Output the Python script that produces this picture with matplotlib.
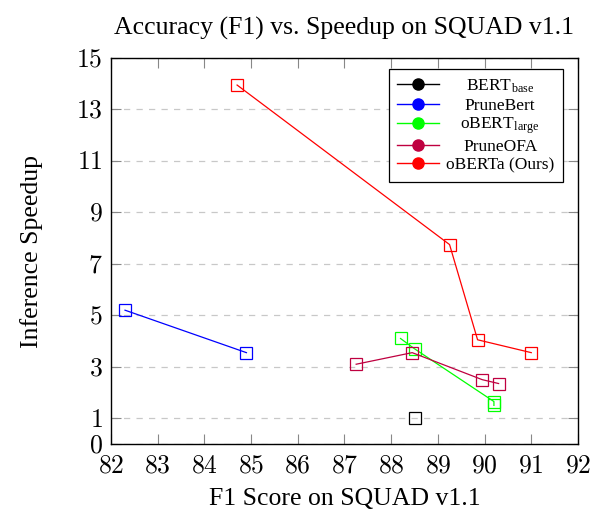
import numpy as np
import matplotlib.pyplot as plt
from matplotlib.lines import Line2D
from matplotlib.transforms import Affine2D

plt.rcParams['font.family'] = 'Liberation Serif'
plt.rcParams['mathtext.fontset'] = 'cm'

# data
bert_f1 = [88.5]
bert_speed = [1.0]
prunebert_f1 = [82.3, 84.9]
prunebert_speed = [5.2, 3.55]
obert_f1 = [88.2, 88.5, 90.2, 90.2]
obert_speed = [4.1, 3.7, 1.65, 1.5]
pruneofa_f1 = [87.25, 88.45, 89.95, 90.3]
pruneofa_speed = [3.1, 3.55, 2.5, 2.35]
oberta_f1 = [84.7, 89.25, 89.85, 91.0]
oberta_speed = [13.95, 7.75, 4.05, 3.55]

series = [
    (bert_f1, bert_speed, 'black', r'BERT$_{\mathregular{base}}$'),
    (prunebert_f1, prunebert_speed, 'blue', 'PruneBert'),
    (obert_f1, obert_speed, '#00ff00', r'oBERT$_{\mathregular{large}}$'),
    (pruneofa_f1, pruneofa_speed, '#bf0040', 'PruneOFA'),
    (oberta_f1, oberta_speed, 'red', 'oBERTa (Ours)'),
]

xticks = list(range(82, 93))
yticks = [0, 1, 3, 5, 7, 9, 11, 13, 15]

fig = plt.figure(figsize=(6.02, 5.13), dpi=100)
ax = fig.add_axes([0.1844, 0.1345, 0.7757, 0.7524])

for x, y, c, lab in series:
    ax.plot(x, y, color=c, lw=0.9, marker='s', ms=8.5, mfc='none', mec=c, mew=0.9)

# legend handles: line + filled circle
handles = [Line2D([0], [0], color=c, lw=1, marker='o', ms=8, mfc=c, mec=c)
           for _, _, c, _ in series]
leg = ax.legend(handles, [s[3] for s in series], loc='upper right',
                bbox_to_anchor=(0.968, 0.972), fontsize=12.5, frameon=True,
                fancybox=False, edgecolor='black', framealpha=1,
                handlelength=2.4, labelspacing=0.12, borderpad=0.5,
                handletextpad=0.4, borderaxespad=0.0)
leg.get_frame().set_linewidth(0.9)

ax.set_xlim(82, 92)
ax.set_ylim(0, 15)
ax.set_xticks(xticks)
ax.set_xticklabels([f'${v}$' for v in xticks])
ax.set_yticks(yticks)
ax.set_yticklabels([f'${v}$' for v in yticks])
ax.tick_params(direction='in', length=7, color='#888888', labelsize=18.5,
               top=True, right=True)
ax.tick_params(axis='x', pad=8)
ax.tick_params(axis='y', pad=6)
ax.yaxis.grid(True, linestyle=(0, (5, 5)), color='#c8c8c8', lw=0.9)
ax.set_axisbelow(True)
for s in ax.spines.values():
    s.set_linewidth(1.0)

ax.set_title('Accuracy (F1) vs. Speedup on SQUAD v1.1', fontsize=18.5, pad=17)
ax.set_xlabel('F1 Score on SQUAD v1.1', fontsize=18.5, labelpad=8)
ax.set_ylabel('Inference Speedup', fontsize=18.5, labelpad=24)

# center the legend texts like the reference
fig.canvas.draw()
r = fig.canvas.get_renderer()
texts = leg.get_texts()
widths = [t.get_window_extent(r).width for t in texts]
maxw = max(widths)
for t, w in zip(texts, widths):
    t.set_transform(t.get_transform() + Affine2D().translate((maxw - w) / 2, 0))

fig.savefig('out.png', dpi=100)
